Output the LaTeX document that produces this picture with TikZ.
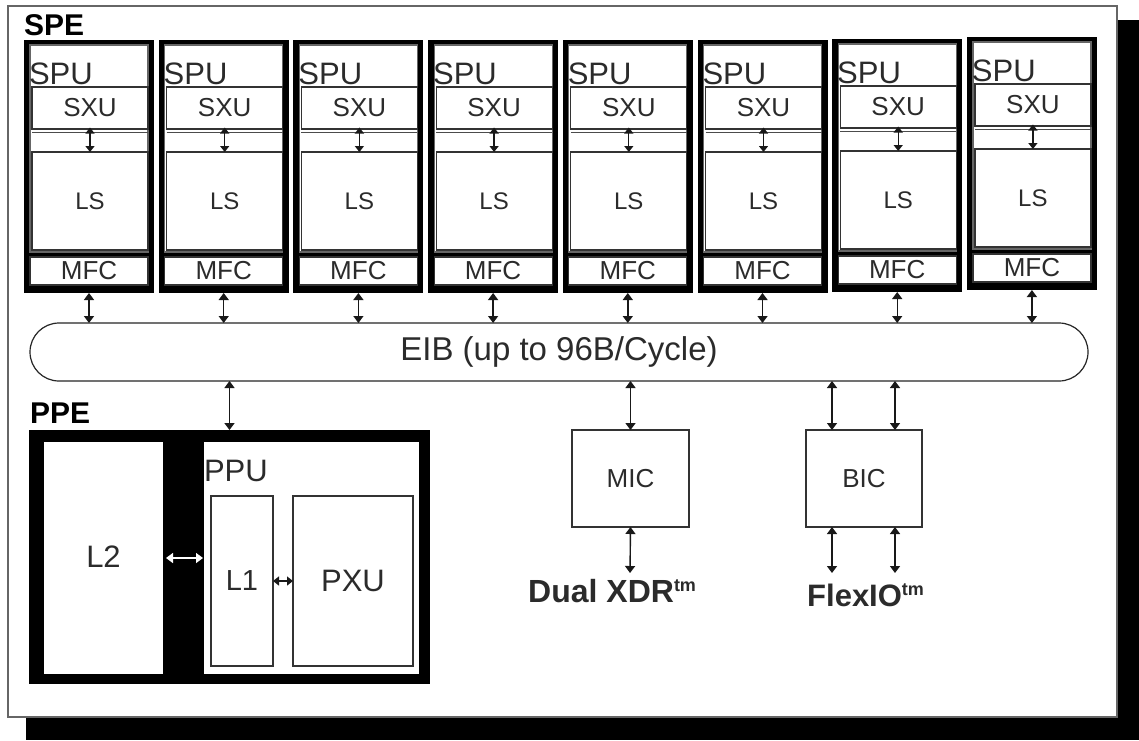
\documentclass[tikz,border=0pt]{standalone}
\usepackage{fontspec}
\setmainfont{Liberation Sans}
\usetikzlibrary{arrows.meta}
\definecolor{txt}{gray}{0.17}
\newcommand\fsz[1]{\fontsize{#1}{#1}\selectfont}
\tikzset{
  box/.style={draw=black!80, line width=1.2pt, fill=white, inner sep=0pt, outer sep=0pt, text=txt, rectangle},
  blk/.style={fill=black, draw=none, inner sep=0pt, outer sep=0pt, rectangle},
  lbl/.style={inner sep=0pt, outer sep=0pt, text=txt},
  blbl/.style={inner sep=0pt, outer sep=0pt, text=black, font=\bfseries\fsz{30}},
  arr/.style={{Triangle[length=7pt,width=10pt]}-{Triangle[length=7pt,width=10pt]}, line width=1.4pt, draw=black!90},
  sarr/.style={{Triangle[length=6pt,width=9pt]}-{Triangle[length=6pt,width=9pt]}, line width=1.3pt, draw=black!90},
}
\begin{document}
\begin{tikzpicture}[x=1pt,y=-1pt]
\useasboundingbox (0,0) rectangle (1139,740);
% shadow and frame
\fill[black] (26,20) rectangle (1139,740);
\draw[black!60, fill=white, line width=1.4pt] (8,6) rectangle (1117,717);
\node[blbl, anchor=base west] (spelbl) at (24,35) {SPE};
% EIB
\node[box, draw=black!85, rounded corners=29pt, minimum width=1058pt, minimum height=58pt, font=\fsz{33}] (eib) at (559,352) {EIB (up to 96B/Cycle)};
% SPEs
\foreach \i in {0,...,7}{
  \pgfmathsetmacro\xa{24+134.7*\i}
  \pgfmathsetmacro\dy{(\i==6)*(-1)+(\i==7)*(-3)}
  \node[blk, minimum width=130pt, minimum height=253pt] (spe\i) at ({\xa+65},{166.5+\dy}) {};
  \node[box, draw=black!60, minimum width=118pt, minimum height=207pt] (spu\i) at ({\xa+65},{148.5+\dy}) {};
  \node[lbl, anchor=base west, font=\fsz{31}] (spulbl\i) at ({\xa+5},{84+\dy}) {SPU};
  \node[box, minimum width=116pt, minimum height=42pt, font=\fsz{26}] (sxu\i) at ({\xa+66},{108+\dy}) {SXU};
  \draw[black!70, line width=1pt] ({\xa+8},{132+\dy}) -- ({\xa+124},{132+\dy});
  \node[box, minimum width=116pt, minimum height=98pt, font=\fsz{24}] (ls\i) at ({\xa+66},{201+\dy}) {LS};
  \node[box, minimum width=118pt, minimum height=28pt, font=\fsz{26}] (mfc\i) at ({\xa+65},{271+\dy}) {MFC};
  \draw[sarr] ([yshift=1.5pt]sxu\i.south) -- (ls\i.north);
  \draw[arr] (spe\i.south) -- (spe\i.south |- eib.north);
}
% PPE
\node[blbl, anchor=base west] (ppelbl) at (30,423) {PPE};
\node[blk, minimum width=401pt, minimum height=254pt] (ppe) at (229.5,557) {};
\node[box, draw=none, minimum width=119pt, minimum height=232pt, font=\fsz{31}] (l2) at (103.5,558) {\raisebox{3pt}{L2}};
\node[box, draw=none, minimum width=215pt, minimum height=232pt] (ppu) at (311.5,558) {};
\node[lbl, anchor=base west, font=\fsz{31}] (ppulbl) at (204,481) {PPU};
\node[box, minimum width=62pt, minimum height=170pt, font=\fsz{29}] (l1) at (242,581) {L1};
\node[box, minimum width=120pt, minimum height=170pt, font=\fsz{31}] (pxu) at (353,581) {PXU};
\draw[arr, draw=white, {Triangle[length=7pt,width=10pt,fill=white]}-{Triangle[length=7pt,width=10pt,fill=white]}] ([xshift=3pt]l2.east) -- ([xshift=-1pt]ppu.west);
\draw[sarr] (l1.east) -- (pxu.west);
\draw[arr] (eib.south -| ppe.north) -- (ppe.north);
% MIC
\node[box, minimum width=117pt, minimum height=97pt, font=\fsz{26}] (mic) at (630.5,478.5) {MIC};
\coordinate (xdrin) at (630,573);
\draw[arr] (eib.south -| mic.north) -- (mic.north);
\draw[arr] (mic.south) -- (xdrin);
\node[inner sep=0pt, anchor=base west, text=txt, font=\bfseries\fsz{32}] (xdr) at (528,602) {Dual XDR\raisebox{11pt}{\fsz{18}tm}};
% BIC
\node[box, minimum width=116pt, minimum height=97pt, font=\fsz{26}] (bic) at (864,478.5) {BIC};
\coordinate (bicn1) at (832,430);
\coordinate (bicn2) at (895,430);
\coordinate (flex1) at (832,573);
\coordinate (flex2) at (895,573);
\draw[arr] (eib.south -| bicn1) -- (bicn1);
\draw[arr] (eib.south -| bicn2) -- (bicn2);
\draw[arr] (bicn1 |- bic.south) -- (flex1);
\draw[arr] (bicn2 |- bic.south) -- (flex2);
\node[inner sep=0pt, anchor=base west, text=txt, font=\bfseries\fsz{31}] (flexio) at (807,606) {FlexIO\raisebox{11pt}{\fsz{18}tm}};
\end{tikzpicture}
\end{document}
